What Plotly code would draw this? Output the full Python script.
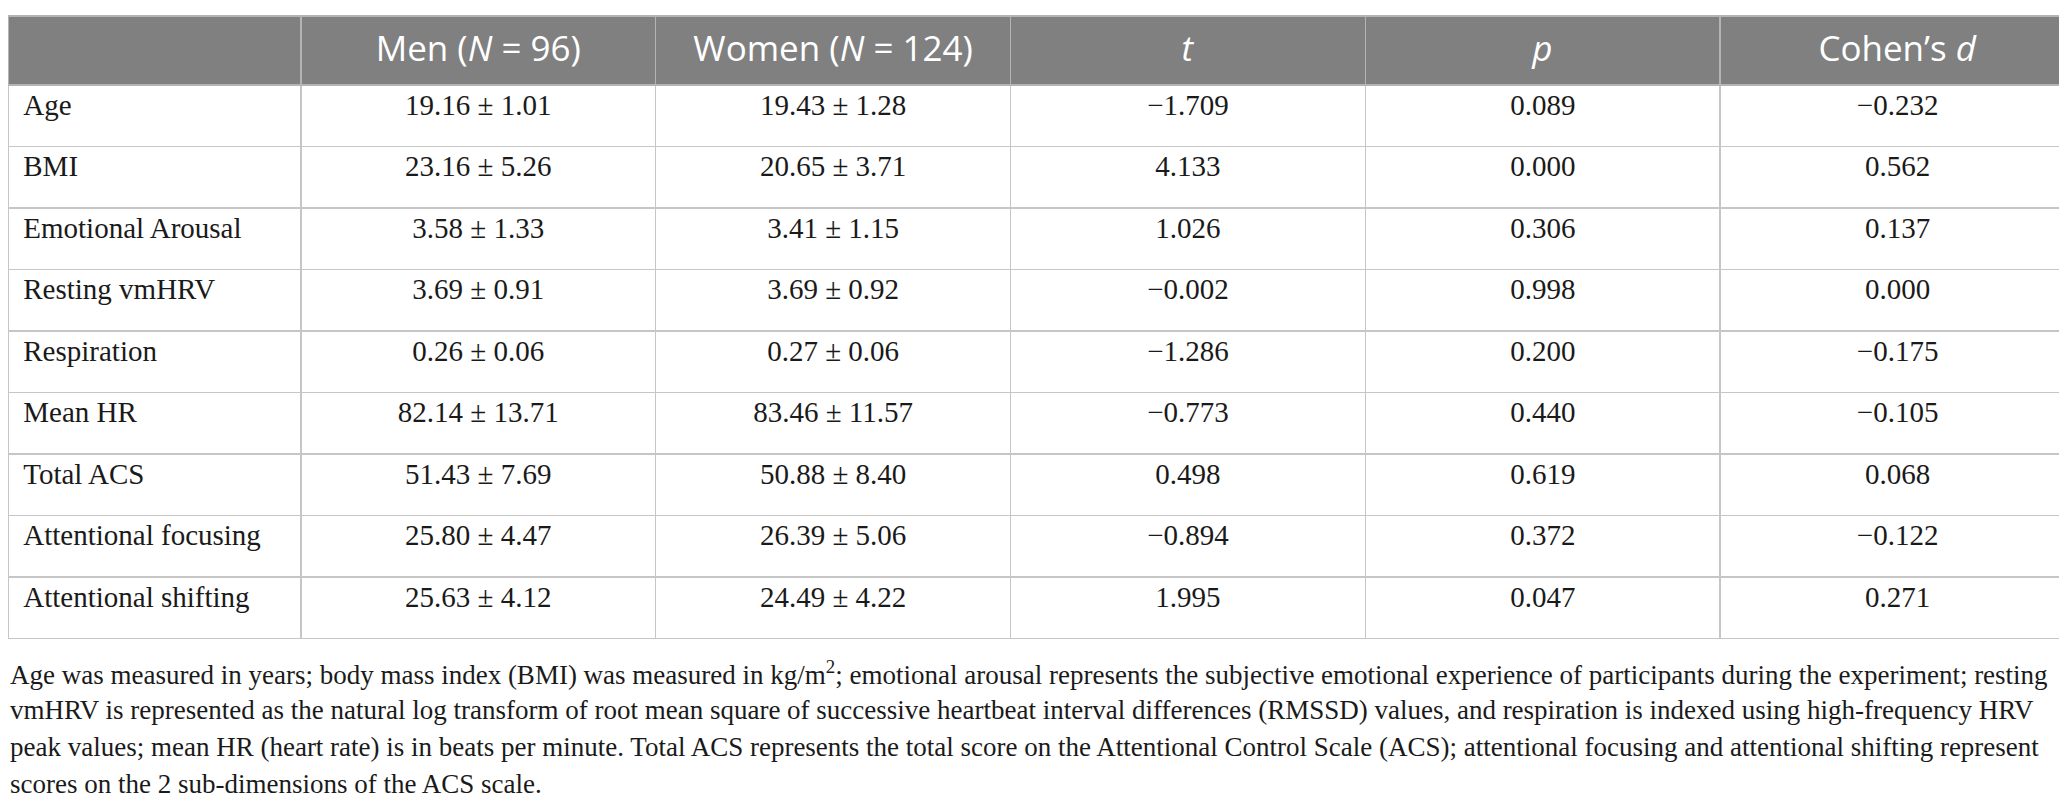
import plotly.graph_objects as go

# table data
variables = ["Age", "BMI", "Emotional Arousal", "Resting vmHRV", "Respiration",
             "Mean HR", "Total ACS", "Attentional focusing", "Attentional shifting"]
men_mean = [19.16, 23.16, 3.58, 3.69, 0.26, 82.14, 51.43, 25.80, 25.63]
men_sd = [1.01, 5.26, 1.33, 0.91, 0.06, 13.71, 7.69, 4.47, 4.12]
women_mean = [19.43, 20.65, 3.41, 3.69, 0.27, 83.46, 50.88, 26.39, 24.49]
women_sd = [1.28, 3.71, 1.15, 0.92, 0.06, 11.57, 8.40, 5.06, 4.22]
t_vals = [-1.709, 4.133, 1.026, -0.002, -1.286, -0.773, 0.498, -0.894, 1.995]
p_vals = [0.089, 0.000, 0.306, 0.998, 0.200, 0.440, 0.619, 0.372, 0.047]
d_vals = [-0.232, 0.562, 0.137, 0.000, -0.175, -0.105, 0.068, -0.122, 0.271]

headers = ["", "Men (<i>N</i> = 96)", "Women (<i>N</i> = 124)", "<i>t</i>", "<i>p</i>",
           "Cohen’s <i>d</i>"]

footnote = [
    "Age was measured in years; body mass index (BMI) was measured in kg/m<sup>2</sup>; emotional arousal represents the subjective emotional experience of participants during the experiment; resting",
    "vmHRV is represented as the natural log transform of root mean square of successive heartbeat interval differences (RMSSD) values, and respiration is indexed using high-frequency HRV",
    "peak values; mean HR (heart rate) is in beats per minute. Total ACS represents the total score on the Attentional Control Scale (ACS); attentional focusing and attentional shifting represent",
    "scores on the 2 sub-dimensions of the ACS scale.",
]


def num(v):
    return f"{v:.3f}".replace("-", "\u2212")


men = [f"{m:.2f} ± {s:.2f}" for m, s in zip(men_mean, men_sd)]
women = [f"{m:.2f} ± {s:.2f}" for m, s in zip(women_mean, women_sd)]

W, H = 2067, 802
line_col = "#c6c6c6"

fig = go.Figure(go.Table(
    domain=dict(x=[0, 1], y=[1 - 640 / H, 1 - 8 / H]),
    columnwidth=[293, 355, 355, 355, 355, 355],
    header=dict(values=headers,
                fill_color="#808080",
                line=dict(color="#b4b4b4", width=1.5),
                align="center",
                height=69,
                font=dict(family="Open Sans", size=35, color="white")),
    cells=dict(values=[["\u00a0" + v for v in variables], men, women,
                       [num(v) for v in t_vals],
                       [num(v) for v in p_vals],
                       [num(v) for v in d_vals]],
               fill_color="white",
               line=dict(color=line_col, width=1.5),
               align=["left", "center", "center", "center", "center", "center"],
               height=61.5,
               font=dict(family="Liberation Serif", size=29, color="#1a1a1a")),
))

for i, line in enumerate(footnote):
    fig.add_annotation(text=line, x=0, xref="paper", xanchor="left",
                       y=1 - (665 + 37 * i) / H, yref="paper", yanchor="middle",
                       showarrow=False, align="left",
                       font=dict(family="Liberation Serif", size=27, color="#1a1a1a"))

fig.update_layout(width=W, height=H, margin=dict(l=0, r=0, t=0, b=0),
                  paper_bgcolor="white", plot_bgcolor="white")

fig.write_html("out.html")
